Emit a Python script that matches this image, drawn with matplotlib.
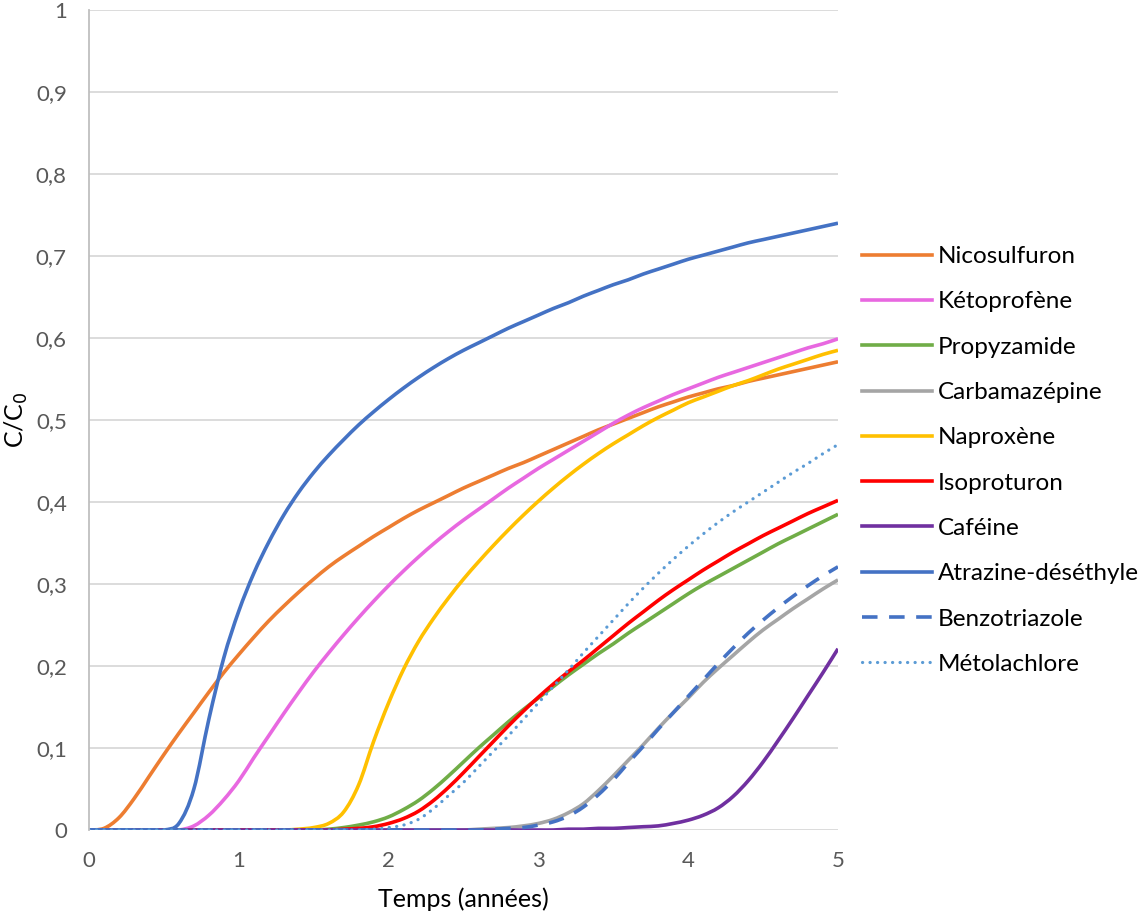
import matplotlib
matplotlib.use("Agg")
import matplotlib.pyplot as plt
from matplotlib.path import Path
from matplotlib.patches import PathPatch
from matplotlib.lines import Line2D

plt.rcParams['font.family'] = ['Lato', 'DejaVu Sans']

t = [0.0, 0.1, 0.2, 0.3, 0.4, 0.5, 0.6, 0.7, 0.8, 0.9,
     1.0, 1.1, 1.2, 1.3, 1.4, 1.5, 1.6, 1.7, 1.8, 1.9,
     2.0, 2.1, 2.2, 2.3, 2.4, 2.5, 2.6, 2.7, 2.8, 2.9,
     3.0, 3.1, 3.2, 3.3, 3.4, 3.5, 3.6, 3.7, 3.8, 3.9,
     4.0, 4.1, 4.2, 4.3, 4.4, 4.5, 4.6, 4.7, 4.8, 4.9, 5.0]

nicosulfuron = [0.0, 0.002, 0.015, 0.038, 0.065, 0.092, 0.118, 0.143, 0.168, 0.192,
                0.214, 0.235, 0.255, 0.273, 0.290, 0.306, 0.321, 0.334, 0.346, 0.358,
                0.369, 0.380, 0.390, 0.399, 0.408, 0.417, 0.425, 0.433, 0.441, 0.448,
                0.456, 0.464, 0.472, 0.480, 0.488, 0.495, 0.502, 0.509, 0.516, 0.522,
                0.528, 0.533, 0.538, 0.542, 0.547, 0.551, 0.555, 0.559, 0.563, 0.567, 0.571]

ketoprofene = [0.0, 0.0, 0.0, 0.0, 0.0, 0.0, 0.0, 0.005, 0.018, 0.037,
               0.060, 0.088, 0.115, 0.142, 0.168, 0.193, 0.216, 0.238, 0.259, 0.279,
               0.298, 0.316, 0.333, 0.349, 0.364, 0.378, 0.391, 0.404, 0.417, 0.429,
               0.441, 0.452, 0.463, 0.474, 0.485, 0.496, 0.506, 0.515, 0.523, 0.531,
               0.538, 0.545, 0.552, 0.558, 0.564, 0.570, 0.576, 0.582, 0.588, 0.593, 0.599]

propyzamide = [0.0, 0.0, 0.0, 0.0, 0.0, 0.0, 0.0, 0.0, 0.0, 0.0,
               0.0, 0.0, 0.0, 0.0, 0.0, 0.0, 0.001, 0.003, 0.006, 0.010,
               0.016, 0.025, 0.036, 0.050, 0.066, 0.083, 0.100, 0.116, 0.132, 0.147,
               0.161, 0.175, 0.189, 0.202, 0.215, 0.227, 0.240, 0.252, 0.264, 0.276,
               0.288, 0.299, 0.309, 0.319, 0.329, 0.339, 0.349, 0.358, 0.367, 0.376, 0.385]

carbamazepine = [0.0, 0.0, 0.0, 0.0, 0.0, 0.0, 0.0, 0.0, 0.0, 0.0,
                 0.0, 0.0, 0.0, 0.0, 0.0, 0.0, 0.0, 0.0, 0.0, 0.0,
                 0.0, 0.0, 0.0, 0.0, 0.0, 0.0, 0.001, 0.002, 0.003, 0.005,
                 0.008, 0.013, 0.021, 0.032, 0.048, 0.066, 0.085, 0.104, 0.124, 0.143,
                 0.161, 0.180, 0.197, 0.213, 0.229, 0.244, 0.257, 0.270, 0.282, 0.294, 0.305]

naproxene = [0.0, 0.0, 0.0, 0.0, 0.0, 0.0, 0.0, 0.0, 0.0, 0.0,
             0.0, 0.0, 0.0, 0.0, 0.001, 0.003, 0.008, 0.022, 0.055, 0.108,
             0.155, 0.196, 0.230, 0.258, 0.283, 0.306, 0.327, 0.347, 0.366, 0.384,
             0.401, 0.417, 0.432, 0.446, 0.459, 0.471, 0.482, 0.493, 0.503, 0.512,
             0.521, 0.528, 0.535, 0.542, 0.548, 0.555, 0.562, 0.568, 0.574, 0.580, 0.585]

isoproturon = [0.0, 0.0, 0.0, 0.0, 0.0, 0.0, 0.0, 0.0, 0.0, 0.0,
               0.0, 0.0, 0.0, 0.0, 0.0, 0.0, 0.0, 0.001, 0.002, 0.004,
               0.008, 0.014, 0.023, 0.036, 0.052, 0.070, 0.089, 0.108, 0.127, 0.145,
               0.162, 0.178, 0.193, 0.207, 0.222, 0.237, 0.252, 0.266, 0.280, 0.293,
               0.305, 0.317, 0.328, 0.339, 0.349, 0.359, 0.368, 0.377, 0.386, 0.394, 0.402]

cafeine = [0.0, 0.0, 0.0, 0.0, 0.0, 0.0, 0.0, 0.0, 0.0, 0.0,
           0.0, 0.0, 0.0, 0.0, 0.0, 0.0, 0.0, 0.0, 0.0, 0.0,
           0.0, 0.0, 0.0, 0.0, 0.0, 0.0, 0.0, 0.0, 0.0, 0.0,
           0.0, 0.0, 0.001, 0.001, 0.002, 0.002, 0.003, 0.004, 0.005, 0.008,
           0.012, 0.018, 0.027, 0.041, 0.060, 0.083, 0.109, 0.136, 0.164, 0.192, 0.221]

atrazine_desethyle = [0.0, 0.0, 0.0, 0.0, 0.0, 0.0, 0.008, 0.050, 0.135, 0.210,
                      0.267, 0.313, 0.351, 0.384, 0.412, 0.436, 0.457, 0.476, 0.494, 0.510,
                      0.525, 0.539, 0.552, 0.564, 0.575, 0.585, 0.594, 0.603, 0.612, 0.620,
                      0.628, 0.636, 0.643, 0.651, 0.658, 0.665, 0.671, 0.678, 0.684, 0.690,
                      0.696, 0.701, 0.706, 0.711, 0.716, 0.720, 0.724, 0.728, 0.732, 0.736, 0.740]

benzotriazole = [0.0, 0.0, 0.0, 0.0, 0.0, 0.0, 0.0, 0.0, 0.0, 0.0,
                 0.0, 0.0, 0.0, 0.0, 0.0, 0.0, 0.0, 0.0, 0.0, 0.0,
                 0.0, 0.0, 0.0, 0.0, 0.0, 0.0, 0.0, 0.001, 0.002, 0.003,
                 0.006, 0.010, 0.017, 0.028, 0.043, 0.061, 0.082, 0.102, 0.123, 0.143,
                 0.163, 0.183, 0.203, 0.222, 0.240, 0.256, 0.271, 0.285, 0.298, 0.310, 0.321]

metolachlore = [0.0, 0.0, 0.0, 0.0, 0.0, 0.0, 0.0, 0.0, 0.0, 0.0,
                0.0, 0.0, 0.0, 0.0, 0.0, 0.0, 0.0, 0.0, 0.0, 0.001,
                0.003, 0.006, 0.013, 0.026, 0.042, 0.058, 0.077, 0.096, 0.115, 0.135,
                0.155, 0.175, 0.195, 0.216, 0.236, 0.256, 0.276, 0.295, 0.313, 0.330,
                0.346, 0.361, 0.375, 0.388, 0.400, 0.412, 0.424, 0.436, 0.447, 0.459, 0.470]

labels = ['Nicosulfuron', 'Kétoprofène', 'Propyzamide', 'Carbamazépine', 'Naproxène',
          'Isoproturon', 'Caféine', 'Atrazine-déséthyle', 'Benzotriazole', 'Métolachlore']
series = [nicosulfuron, ketoprofene, propyzamide, carbamazepine, naproxene,
          isoproturon, cafeine, atrazine_desethyle, benzotriazole, metolachlore]
colors = ['#ED7D31', '#E868E0', '#70AD47', '#A5A5A5', '#FFC000',
          '#FF0000', '#7030A0', '#4472C4', '#4472C4', '#5B9BD5']
styles = ['-', '-', '-', '-', '-', '-', '-', '-', (0, (4.3, 3.2)), (0, (0.05, 2.3))]

y_ticks = [0, 0.1, 0.2, 0.3, 0.4, 0.5, 0.6, 0.7, 0.8, 0.9, 1.0]
y_tick_labels = ['0', '0,1', '0,2', '0,3', '0,4', '0,5', '0,6', '0,7', '0,8', '0,9', '1']
x_ticks = [0, 1, 2, 3, 4, 5]
x_tick_labels = ['0', '1', '2', '3', '4', '5']


def smooth_path(xs, ys):
    """Smoothed-line rendering (Bezier segments through the data points)."""
    n = len(xs)
    verts = [(xs[0], ys[0])]
    codes = [Path.MOVETO]
    for i in range(n - 1):
        x0, y0 = xs[max(i - 1, 0)], ys[max(i - 1, 0)]
        x1, y1 = xs[i], ys[i]
        x2, y2 = xs[i + 1], ys[i + 1]
        x3, y3 = xs[min(i + 2, n - 1)], ys[min(i + 2, n - 1)]
        c1 = (x1 + (x2 - x0) / 6.0, y1 + (y2 - y0) / 6.0)
        c2 = (x2 - (x3 - x1) / 6.0, y2 - (y3 - y1) / 6.0)
        verts += [c1, c2, (x2, y2)]
        codes += [Path.CURVE4, Path.CURVE4, Path.CURVE4]
    return Path(verts, codes)


fig = plt.figure(figsize=(11.41, 9.16), dpi=100)
ax = fig.add_axes([89 / 1141, 1 - 830 / 916, (838 - 89) / 1141, 820 / 916])

handles = []
for y, lab, c, ls in zip(series, labels, colors, styles):
    lw = 2.6
    cap = 'butt'
    if lab == 'Métolachlore':
        lw = 2.3
        cap = 'round'
    patch = PathPatch(smooth_path(t, y), facecolor='none', edgecolor=c, lw=lw,
                      linestyle=ls, capstyle=cap)
    patch.set_joinstyle('round')
    ax.add_patch(patch)
    handles.append(Line2D([], [], color=c, lw=lw, linestyle=ls,
                          dash_capstyle=cap, label=lab))

ax.set_xlim(0, 5)
ax.set_ylim(0, 1)
ax.set_yticks(y_ticks)
ax.set_yticklabels(y_tick_labels)
ax.set_xticks(x_ticks)
ax.set_xticklabels(x_tick_labels)
ax.tick_params(axis='both', length=0, labelsize=16, labelcolor='#595959')
ax.tick_params(axis='y', pad=16)
ax.tick_params(axis='x', pad=15)
ax.grid(axis='y', color='#D9D9D9', lw=1.3)
ax.set_axisbelow(True)
for s in ['top', 'right', 'bottom']:
    ax.spines[s].set_visible(False)
ax.spines['left'].set_color('#BFBFBF')
ax.spines['left'].set_linewidth(1.3)

ax.set_xlabel('Temps (années)', fontsize=18, color='black', labelpad=12)
fig.text(16 / 1141, 1 - 420 / 916, 'C/C$_0$', fontsize=18, color='black',
         rotation=90, ha='center', va='center')

leg = ax.legend(handles=handles, loc='center left',
                bbox_to_anchor=(862 / 1141, 1 - 460.5 / 916),
                bbox_transform=fig.transFigure, frameon=False, fontsize=17.5,
                handlelength=2.88, handletextpad=0.25, labelspacing=1.0,
                borderpad=0, borderaxespad=0)

fig.savefig('out.png', dpi=100)
